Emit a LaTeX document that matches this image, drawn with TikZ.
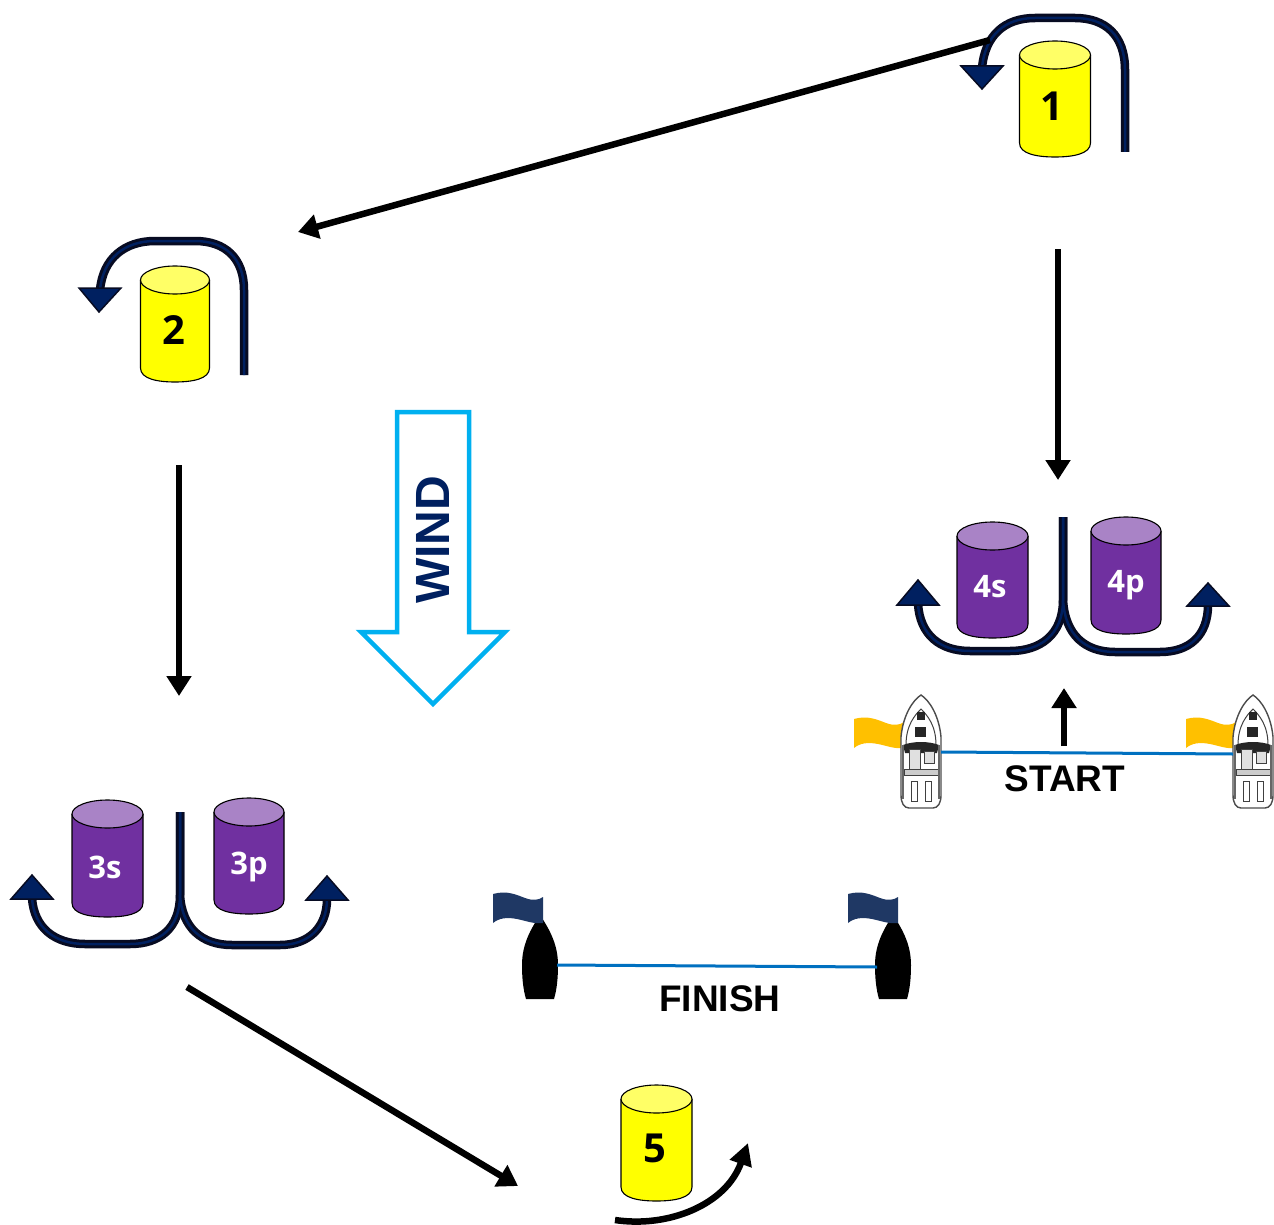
\documentclass[tikz,border=0pt]{standalone}
\usepackage{fontspec}
\setmainfont{Liberation Sans}
\newfontfamily\numfont{Open Sans}
\usetikzlibrary{arrows.meta}
\definecolor{navymark}{HTML}{002060}
\definecolor{markdark}{HTML}{070B22}
\definecolor{wyellow}{HTML}{FFFF00}
\definecolor{wyellowtop}{HTML}{FFFF66}
\definecolor{wpurple}{HTML}{7030A0}
\definecolor{wpurpletop}{HTML}{A983C6}
\definecolor{linkblue}{HTML}{0070C0}
\definecolor{windcyan}{HTML}{00B0F0}
\definecolor{flagorange}{HTML}{FFC000}
\definecolor{flagnavy}{HTML}{1F3864}
\tikzset{
  roundingdark/.style={draw=markdark,line width=8.5pt,line join=round},
  roundingcore/.style={draw=navymark,line width=2.5pt,line join=round},
  markhead/.style={fill=navymark,draw=markdark,line width=1.5pt,line join=miter},
  course/.style={draw=black,line width=6.5pt,-{Triangle[length=20pt,width=24pt]}},
  courseb/.style={draw=black,line width=6.5pt},
  buoylabel/.style={font=\numfont\bfseries\fontsize{40}{40}\selectfont,text=black,inner sep=0pt},
  smalllabel/.style={font=\numfont\bfseries\fontsize{31}{31}\selectfont,text=white,inner sep=0pt},
  linelabel/.style={font=\bfseries\fontsize{37}{37}\selectfont,text=black,inner sep=0pt},
  gateline/.style={draw=linkblue,line width=3pt},
  boathull/.style={draw=black!70,fill=white,line width=1.4pt},
  boatpart/.style={draw=black!75,fill=white,line width=1pt},
}
% name, cx, top, bottom, half width, side colour, top colour
\newcommand{\drumshape}[7]{%
  \fill[#6] (#2-#5,#3+14) -- (#2-#5,#4-14) .. controls (#2-#5,#4-3) and (#2-#5*.5,#4) .. (#2,#4)
     .. controls (#2+#5*.5,#4) and (#2+#5,#4-3) .. (#2+#5,#4-14) -- (#2+#5,#3+14) -- cycle;
  \draw[black,line width=1.1pt] (#2-#5,#3+14) -- (#2-#5,#4-14) .. controls (#2-#5,#4-3) and (#2-#5*.5,#4) .. (#2,#4)
     .. controls (#2+#5*.5,#4) and (#2+#5,#4-3) .. (#2+#5,#4-14) -- (#2+#5,#3+14);
  \draw[black,line width=1.1pt,fill=#7] (#2,#3+14) ellipse [x radius=#5,y radius=14];
  \coordinate (#1) at (#2,{(#3+#4)/2});
}
\newcommand{\motorboat}[2]{%
  \begin{scope}[shift={(#1,#2)}]
    \path[boathull] (0,0) .. controls (8,5) and (18,20) .. (20,42) -- (20,100)
      .. controls (20,108) and (17,113) .. (12,113) -- (-12,113)
      .. controls (-17,113) and (-20,108) .. (-20,100) -- (-20,42)
      .. controls (-18,20) and (-8,5) .. (0,0) -- cycle;
    \path[boatpart] (0,14) .. controls (-6,20) and (-15,30) .. (-15,50) -- (15,50) .. controls (15,30) and (6,20) .. (0,14) -- cycle;
    \fill[black!85] (-4,17) rectangle (4,25);
    \fill[black!85] (-6,32) rectangle (5,42);
    \fill[black!85] (-18,50) .. controls (-8,46) and (8,46) .. (18,50) -- (16,58) -- (-16,58) -- cycle;
    \path[boatpart,fill=black!12] (-12,54) rectangle (-1,74);
    \path[boatpart,fill=black!12] (3,56) rectangle (13,68);
    \path[boatpart,fill=black!20] (-17,74) rectangle (17,80);
    \draw[black!60,line width=2pt] (-18,50) -- (-18,104);
    \draw[black!60,line width=2pt] (18,50) -- (18,104);
    \path[boatpart] (-10,86) rectangle (-4,106);
    \path[boatpart] (4,86) rectangle (10,106);
  \end{scope}
}
\newcommand{\wavyflag}[3]{%
  \begin{scope}[shift={(#1,#2)}]
    \fill[#3] (0,1) .. controls (14,-3) and (24,2) .. (32,5) .. controls (40,8) and (46,7) .. (50,4)
      -- (50,30) .. controls (40,31) and (34,28) .. (24,26) .. controls (14,24) and (6,25) .. (0,30) -- cycle;
  \end{scope}
}
\newcommand{\blackbuoy}[2]{%
  \fill[black] (#1,#2) .. controls (#1+10,#2+15) and (#1+18,#2+30) .. (#1+18,#2+50)
    .. controls (#1+18,#2+62) and (#1+17,#2+74) .. (#1+14,#2+84) -- (#1-14,#2+84)
    .. controls (#1-17,#2+74) and (#1-18,#2+62) .. (#1-18,#2+50)
    .. controls (#1-18,#2+30) and (#1-10,#2+15) .. (#1,#2) -- cycle;
}
\begin{document}
\begin{tikzpicture}[x=1pt,y=-1pt]
\useasboundingbox (0,0) rectangle (1274,1225);
\fill[white] (0,0) rectangle (1274,1225);

% course coordinates
\coordinate (m1end) at (990,40);
\coordinate (m2start) at (298,232);
\coordinate (fromOneA) at (1058,249);
\coordinate (toFourA) at (1058,480);
\coordinate (fromTwoA) at (179,465);
\coordinate (toThreeA) at (179,696);
\coordinate (fromThreeA) at (187,987);
\coordinate (toFiveA) at (518,1186);
\coordinate (startFoot) at (1064,746);
\coordinate (startTip) at (1064,688);
\coordinate (fiveIn) at (615,1220);
\coordinate (fiveOut) at (748,1143);

% wind arrow
\draw[windcyan,line width=4.5pt,line join=miter,fill=white]
  (397,412) -- (469,412) -- (469,632) -- (505,632) -- (433,704) -- (361,632) -- (397,632) -- cycle;
\node[rotate=90,inner sep=0pt,text=navymark,font=\bfseries\fontsize{48}{48}\selectfont] (wind) at (433,540) {WIND};

% buoys
\drumshape{b1}{1055}{41}{157}{35.5}{wyellow}{wyellowtop}
\drumshape{b2}{175}{266}{382}{34.5}{wyellow}{wyellowtop}
\drumshape{b5}{656.5}{1085}{1201}{35.5}{wyellow}{wyellowtop}
\drumshape{b4s}{992.5}{522}{638}{35.5}{wpurple}{wpurpletop}
\drumshape{b4p}{1126}{517}{634}{35}{wpurple}{wpurpletop}
\drumshape{b3s}{107.5}{800}{917}{35.5}{wpurple}{wpurpletop}
\drumshape{b3p}{249}{798}{914}{35}{wpurple}{wpurpletop}
\node[buoylabel] (n1) at (1052,106) {1};
\node[buoylabel] (n2) at (174,330) {2};
\node[buoylabel] (n5) at (655,1148) {5};
\node[smalllabel] (n4s) at (990,587) {4s};
\node[smalllabel] (n4p) at (1126,585) {4p};
\node[smalllabel] (n3s) at (105,867) {3s};
\node[smalllabel] (n3p) at (249,867) {3p};

% rounding paths: marks 1 and 2, gates 4 and 3
\foreach \st in {roundingdark,roundingcore}{
  \path[\st] (1125,152) -- (1125,70) .. controls (1125,35) and (1105,18) .. (1075,18)
    -- (1035,18) .. controls (1005,18) and (985,35) .. (982,68);
  \path[\st] (244,375) -- (244,290) .. controls (244,258) and (225,241) .. (195,241)
    -- (155,241) .. controls (125,241) and (103,258) .. (100,290);
  \path[\st] (1063,517) -- (1063,600) .. controls (1063,635) and (1040,651) .. (1010,651)
    -- (970,651) .. controls (940,651) and (920,635) .. (918,604);
  \path[\st] (1063,517) -- (1063,600) .. controls (1065,635) and (1085,652) .. (1115,652)
    -- (1160,652) .. controls (1190,652) and (1208,635) .. (1208,605);
  \path[\st] (180,812) -- (180,895) .. controls (180,928) and (160,944) .. (130,944)
    -- (85,944) .. controls (55,944) and (34,928) .. (32,898);
  \path[\st] (180,812) -- (180,895) .. controls (182,928) and (202,945) .. (232,945)
    -- (280,945) .. controls (308,945) and (327,928) .. (327,899);
}
\path[markhead] (961,66) -- (1003,66) -- (982,89) -- cycle;
\path[markhead] (79,288) -- (121,288) -- (99,312) -- cycle;
\path[markhead] (897,605) -- (939,605) -- (918,580) -- cycle;
\path[markhead] (1187,606) -- (1229,606) -- (1208,583) -- cycle;
\path[markhead] (11,899) -- (53,899) -- (32,875) -- cycle;
\path[markhead] (306,900) -- (348,900) -- (327,876) -- cycle;

% course arrows
\draw[course] (m1end) -- (m2start);
\draw[course] (fromOneA) -- (toFourA);
\draw[course] (fromTwoA) -- (toThreeA);
\draw[course] (fromThreeA) -- (toFiveA);
\draw[courseb,-{Triangle[length=20pt,width=24pt]}] (startFoot) -- (startTip);
\draw[courseb,-{Triangle[length=22pt,width=22pt]}] (fiveIn) .. controls (668,1228) and (726,1205) .. (fiveOut);

% start line
\wavyflag{854}{718}{flagorange}
\wavyflag{1186}{718}{flagorange}
\motorboat{921}{695}
\motorboat{1253}{695}
\coordinate (startL) at (941,752);
\coordinate (startR) at (1233,754);
\draw[gateline] (startL) -- (startR);
\node[linelabel] (startlabel) at (1065,779) {START};

% finish line
\blackbuoy{540}{915}
\blackbuoy{893}{915}
\wavyflag{493}{893}{flagnavy}
\wavyflag{848}{893}{flagnavy}
\coordinate (finishL) at (557,965);
\coordinate (finishR) at (877,967);
\draw[gateline] (finishL) -- (finishR);
\node[linelabel] (finishlabel) at (720,999) {FINISH};
\end{tikzpicture}
\end{document}
